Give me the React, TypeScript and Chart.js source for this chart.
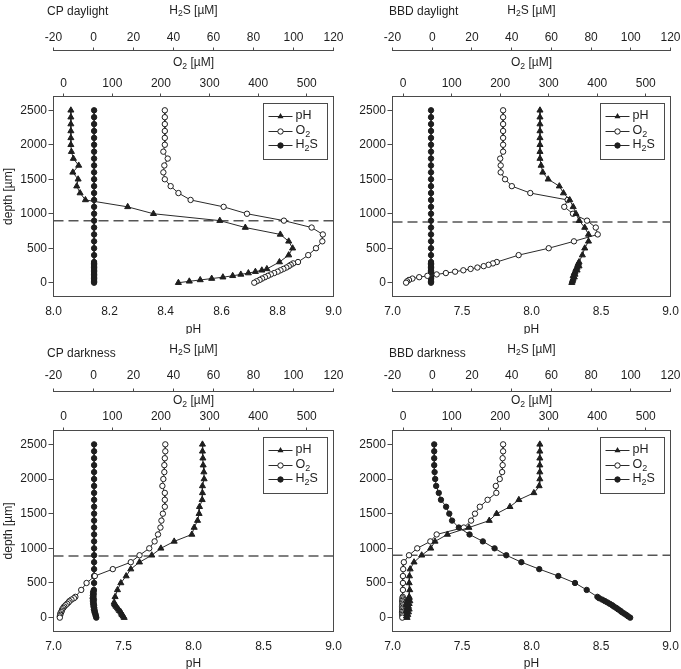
import React, { useEffect, useRef } from "react";
import { Chart, registerables } from "chart.js";

Chart.register(...registerables);

const FONT = "'Liberation Sans', Arial, Helvetica, sans-serif";
const INK = "#1e1e1e";
const FRAME = "#4a4a4a";
const LINE = "#2a2a2a";

// ---------- depth grids (µm) ----------
const COARSE_DEPTHS = [2500, 2400, 2300, 2200, 2100, 2000, 1900, 1800, 1700, 1600, 1500, 1400, 1300, 1200, 1100, 1000, 900, 800, 700, 600, 500, 400, 300];
const COARSE_TO_400 = [2500, 2400, 2300, 2200, 2100, 2000, 1900, 1800, 1700, 1600, 1500, 1400, 1300, 1200, 1100, 1000, 900, 800, 700, 600, 500, 400];
const COARSE_TO_500 = [2500, 2400, 2300, 2200, 2100, 2000, 1900, 1800, 1700, 1600, 1500, 1400, 1300, 1200, 1100, 1000, 900, 800, 700, 600, 500];
const FINE_400 = [400, 380, 360, 340, 320, 300, 280, 260, 240, 220, 200, 180, 160, 140, 120, 100, 80, 60, 40, 20, 0];
const FINE_300 = [300, 280, 260, 240, 220, 200, 180, 160, 140, 120, 100, 80, 60, 40, 20, 0];
const FINE_280 = [280, 260, 240, 220, 200, 180, 160, 140, 120, 100, 80, 60, 40, 20, 0];
const FINE_220 = [220, 200, 180, 160, 140, 120, 100, 80, 60, 40, 20, 0];
const FINE_200 = [200, 180, 160, 140, 120, 100, 80, 60, 40, 20, 0];

// ---------- tick labels ----------
const DEPTH_TICKS = [0, 500, 1000, 1500, 2000, 2500];
const O2_TICKS = [0, 100, 200, 300, 400, 500];
const H2S_TICKS = [-20, 0, 20, 40, 60, 80, 100, 120];
const PH_TICKS_NARROW = [8.0, 8.2, 8.4, 8.6, 8.8, 9.0];
const PH_TICKS_WIDE = [7.0, 7.5, 8.0, 8.5, 9.0];

// ---------- CP daylight ----------
const CP_DAY_PH_DEPTH = [...COARSE_DEPTHS, ...FINE_200];
const CP_DAY_PH = [8.062, 8.062, 8.062, 8.062, 8.062, 8.062, 8.064, 8.071, 8.09, 8.069, 8.088, 8.083, 8.095, 8.114, 8.265, 8.357, 8.594, 8.685, 8.81, 8.84, 8.854, 8.84, 8.807,
  8.762, 8.744, 8.721, 8.696, 8.669, 8.64, 8.605, 8.565, 8.524, 8.485, 8.446];
const CP_DAY_O2_DEPTH = [...COARSE_TO_400, ...FINE_300];
const CP_DAY_O2 = [208, 208, 208, 208, 208, 208, 205, 214, 207, 205, 208, 220, 236, 261, 329, 377, 453, 510, 533, 532, 519, 503,
  482, 472, 467, 463, 458, 452, 446, 440, 433, 426, 420, 414, 408, 403, 397, 392];
const CP_DAY_H2S_DEPTH = [...COARSE_TO_400, ...FINE_300];
const CP_DAY_H2S = [0.3, 0.3, 0.3, 0.3, 0.3, 0.3, 0.3, 0.3, 0.3, 0.3, 0.3, 0.3, 0.3, 0.3, 0.3, 0.3, 0.3, 0.3, 0.3, 0.3, 0.3, 0.3,
  0.3, 0.3, 0.3, 0.3, 0.3, 0.3, 0.3, 0.3, 0.3, 0.3, 0.3, 0.3, 0.3, 0.3, 0.3, 0.3];

// ---------- BBD daylight ----------
const BBD_DAY_PH_DEPTH = [...COARSE_DEPTHS, ...FINE_280];
const BBD_DAY_PH = [8.061, 8.061, 8.061, 8.061, 8.061, 8.061, 8.061, 8.061, 8.069, 8.081, 8.12, 8.2, 8.23, 8.275, 8.3, 8.32, 8.343, 8.383, 8.41, 8.41, 8.383, 8.366, 8.342,
  8.338, 8.333, 8.342, 8.328, 8.32, 8.328, 8.313, 8.308, 8.313, 8.3, 8.308, 8.299, 8.296, 8.294, 8.29];
const BBD_DAY_O2_DEPTH = [...COARSE_TO_400, ...FINE_300];
const BBD_DAY_O2 = [206, 206, 206, 206, 206, 206, 206, 200, 201, 201, 210, 224, 262, 339, 332, 350, 379, 397, 401, 352, 300, 238,
  193, 185, 176, 166, 153, 139, 124, 107, 88, 69, 50, 33, 19, 12, 8, 6];
const BBD_DAY_H2S_DEPTH = [...COARSE_TO_400, ...FINE_300];
const BBD_DAY_H2S = [-0.6, -0.6, -0.6, -0.6, -0.6, -0.6, -0.6, -0.6, -0.6, -0.6, -0.6, -0.6, -0.6, -0.6, -0.6, -0.6, -0.6, -0.6, -0.6, -0.6, -0.6, -0.6,
  -0.6, -0.6, -0.6, -0.6, -0.6, -0.6, -0.6, -0.6, -0.6, -0.6, -0.6, -0.6, -0.6, -0.6, -0.6, -0.6];

// ---------- CP darkness ----------
const CP_DARK_PH_DEPTH = [...COARSE_DEPTHS, ...FINE_220];
const CP_DARK_PH = [8.064, 8.064, 8.067, 8.069, 8.074, 8.076, 8.064, 8.064, 8.062, 8.043, 8.04, 8.029, 8.005, 7.988, 7.862, 7.767, 7.702, 7.614, 7.552, 7.519, 7.481, 7.457, 7.44,
  7.433, 7.436, 7.44, 7.448, 7.457, 7.464, 7.471, 7.481, 7.486, 7.49, 7.498, 7.505];
const CP_DARK_O2_DEPTH = [...COARSE_TO_400, ...FINE_300];
const CP_DARK_O2 = [209, 209, 208, 207, 207, 205, 203, 208, 208, 208, 204, 201, 199, 194, 187, 176, 156, 138, 101, 64, 47, 36,
  24, 21, 16, 12, 10, 7, 4, 1, -1, -3, -4, -5, -7, -7, -8, -8];
const CP_DARK_H2S_DEPTH = [...COARSE_TO_500, ...FINE_400];
const CP_DARK_H2S = [0.3, 0.3, 0.3, 0.3, 0.3, 0.3, 0.3, 0.3, 0.3, 0.3, 0.3, 0.3, 0.3, 0.3, 0.3, 0.3, 0.3, 0.3, 0.3, 0.3, 0.3,
  0.2, 0.0, -0.2, 0.1, -0.3, 0.0, -0.4, 0.2, -0.3, 0.1, -0.2, 0.3, 0.0, 0.4, 0.2, 0.6, 0.5, 0.9, 1.0, 1.2, 1.4];

// ---------- BBD darkness ----------
const BBD_DARK_PH_DEPTH = [...COARSE_DEPTHS, ...FINE_280];
const BBD_DARK_PH = [8.06, 8.06, 8.06, 8.06, 8.06, 8.06, 8.055, 8.017, 7.909, 7.845, 7.749, 7.696, 7.55, 7.395, 7.306, 7.275, 7.21, 7.155, 7.127, 7.122, 7.12, 7.124, 7.12,
  7.12, 7.11, 7.125, 7.105, 7.12, 7.1, 7.115, 7.105, 7.12, 7.1, 7.115, 7.105, 7.11, 7.1, 7.105];
const BBD_DARK_O2_DEPTH = [...COARSE_DEPTHS, ...FINE_280];
const BBD_DARK_O2 = [206, 206, 205, 205, 204, 199, 191, 192, 174, 158, 148, 140, 125, 69, 56, 29, 12, 1.4, 0, -0.5, -0.5, -0.5, -0.8,
  -1.5, -1.0, -2.0, -1.2, -1.8, -1.0, -2.2, -1.5, -2.0, -1.3, -2.4, -1.6, -2.0, -1.5, -1.8];
const BBD_DARK_H2S_DEPTH = [...COARSE_DEPTHS, ...FINE_280];
const BBD_DARK_H2S = [1.0, 1.0, 1.0, 1.0, 1.2, 1.5, 2.0, 3.3, 4.4, 7.0, 8.6, 10.0, 13.4, 18.8, 25.5, 31.4, 37.3, 44.9, 53.9, 63.5, 71.9, 77.8, 83.2,
  84.1, 85.6, 86.9, 88.2, 89.4, 90.6, 91.5, 92.7, 93.6, 94.7, 95.5, 96.6, 97.7, 98.6, 99.7];

// ---------- oxic/anoxic boundary (dashed line), µm ----------
const BOUNDARY_DEPTHS = [900, 880, 890, 900];
const PANEL_TITLES = ["CP daylight", "BBD daylight", "CP darkness", "BBD darkness"];

type Series = { depth: number[]; values: number[] };
type Panel = {
  title: string;
  left: number; top: number; w: number; h: number;
  yWidth: number; padRight: number; showYTitle: boolean;
  h2sH: number; o2H: number; xH: number;
  h2sTickPad: number; o2TickPad: number; xTickPad: number; xTitlePadBottom: number;
  titleX: number; titleY: number; h2sTitleY: number; o2TitleY: number;
  phMin: number; phMax: number; phTicks: number[];
  o2Min: number; o2Max: number;
  ph: Series; o2: Series; h2s: Series; boundary: number;
};

const zip = (s: Series) => s.depth.map((y, i) => ({ x: s.values[i], y }));

const TOP_ROW = { top: 0, h: 334, h2sH: 50.5, o2H: 46, xH: 37.5, h2sTickPad: 2.8, o2TickPad: 2.3, xTickPad: 8, xTitlePadBottom: -2.5, titleY: 12, h2sTitleY: 10.5, o2TitleY: 63 };
const BOTTOM_ROW = { top: 334, h: 335, h2sH: 57.5, o2H: 39, xH: 37.5, h2sTickPad: 5.3, o2TickPad: 3.3, xTickPad: 8.3, xTitlePadBottom: -2.2, titleY: 20, h2sTitleY: 15.5, o2TitleY: 67 };
// left canvases are wider than their column so the last tick labels are not clipped
const LEFT_COL = { left: 0, w: 362, yWidth: 53.5, padRight: 28.5, showYTitle: true, titleX: 47, o2Min: -21, o2Max: 555 };
const RIGHT_COL = { left: 340, w: 341, yWidth: 52.5, padRight: 10.5, showYTitle: false, titleX: 49, o2Min: -22, o2Max: 551 };

const PANELS: Panel[] = [
  { ...TOP_ROW, ...LEFT_COL, title: PANEL_TITLES[0], phMin: 8, phMax: 9, phTicks: PH_TICKS_NARROW,
    ph: { depth: CP_DAY_PH_DEPTH, values: CP_DAY_PH }, o2: { depth: CP_DAY_O2_DEPTH, values: CP_DAY_O2 }, h2s: { depth: CP_DAY_H2S_DEPTH, values: CP_DAY_H2S }, boundary: BOUNDARY_DEPTHS[0] },
  { ...TOP_ROW, ...RIGHT_COL, title: PANEL_TITLES[1], phMin: 7, phMax: 9, phTicks: PH_TICKS_WIDE,
    ph: { depth: BBD_DAY_PH_DEPTH, values: BBD_DAY_PH }, o2: { depth: BBD_DAY_O2_DEPTH, values: BBD_DAY_O2 }, h2s: { depth: BBD_DAY_H2S_DEPTH, values: BBD_DAY_H2S }, boundary: BOUNDARY_DEPTHS[1] },
  { ...BOTTOM_ROW, ...LEFT_COL, title: PANEL_TITLES[2], phMin: 7, phMax: 9, phTicks: PH_TICKS_WIDE,
    ph: { depth: CP_DARK_PH_DEPTH, values: CP_DARK_PH }, o2: { depth: CP_DARK_O2_DEPTH, values: CP_DARK_O2 }, h2s: { depth: CP_DARK_H2S_DEPTH, values: CP_DARK_H2S }, boundary: BOUNDARY_DEPTHS[2] },
  { ...BOTTOM_ROW, ...RIGHT_COL, title: PANEL_TITLES[3], phMin: 7, phMax: 9, phTicks: PH_TICKS_WIDE,
    ph: { depth: BBD_DARK_PH_DEPTH, values: BBD_DARK_PH }, o2: { depth: BBD_DARK_O2_DEPTH, values: BBD_DARK_O2 }, h2s: { depth: BBD_DARK_H2S_DEPTH, values: BBD_DARK_H2S }, boundary: BOUNDARY_DEPTHS[3] },
];

type Part = [string, boolean];

function drawRich(ctx: CanvasRenderingContext2D, parts: Part[], x: number, y: number, size: number, align: "left" | "center") {
  const subSize = size * 0.72;
  let total = 0;
  for (const [t, sub] of parts) {
    ctx.font = `${sub ? subSize : size}px ${FONT}`;
    total += ctx.measureText(t).width;
  }
  let cx = align === "center" ? x - total / 2 : x;
  ctx.textAlign = "left";
  ctx.textBaseline = "middle";
  for (const [t, sub] of parts) {
    ctx.font = `${sub ? subSize : size}px ${FONT}`;
    ctx.fillText(t, cx, sub ? y + size * 0.3 : y);
    cx += ctx.measureText(t).width;
  }
}

function drawMarker(ctx: CanvasRenderingContext2D, kind: string, x: number, y: number) {
  ctx.beginPath();
  if (kind === "tri") {
    const r = 3.5;
    for (let k = 0; k < 3; k++) {
      const a = (k * 2 * Math.PI) / 3;
      const px = x + Math.sin(a) * r;
      const py = y - Math.cos(a) * r;
      if (k === 0) ctx.moveTo(px, py); else ctx.lineTo(px, py);
    }
    ctx.closePath();
    ctx.fillStyle = INK;
    ctx.fill();
  } else {
    ctx.arc(x, y, 2.7, 0, Math.PI * 2);
    ctx.fillStyle = kind === "open" ? "#fff" : INK;
    ctx.fill();
    ctx.strokeStyle = INK;
    ctx.lineWidth = 1;
    ctx.stroke();
  }
}

const decorPlugin = (p: Panel) => ({
  id: "decor",
  afterDraw(chart: any) {
    const ctx: CanvasRenderingContext2D = chart.ctx;
    const a = chart.chartArea;
    ctx.save();
    // frame
    ctx.strokeStyle = FRAME;
    ctx.lineWidth = 1;
    ctx.strokeRect(a.left, a.top, a.right - a.left, a.bottom - a.top);
    // panel title
    ctx.fillStyle = INK;
    ctx.textAlign = "left";
    ctx.textBaseline = "middle";
    ctx.font = `12px ${FONT}`;
    ctx.fillText(p.title, p.titleX, p.titleY);
    // top axis titles
    const cx = (a.left + a.right) / 2;
    drawRich(ctx, [["H", false], ["2", true], ["S [µM]", false]], cx, p.h2sTitleY, 12, "center");
    drawRich(ctx, [["O", false], ["2", true], [" [µM]", false]], cx, p.o2TitleY, 12, "center");
    // legend
    const w = 64, h = 56;
    const x0 = Math.round(a.right - 7 - w) + 0.5;
    const y0 = Math.round(a.top + 6) + 0.5;
    ctx.fillStyle = "#fff";
    ctx.fillRect(x0, y0, w, h);
    ctx.strokeStyle = FRAME;
    ctx.lineWidth = 1;
    ctx.strokeRect(x0, y0, w, h);
    const rows: { kind: string; label: Part[] }[] = [
      { kind: "tri", label: [["pH", false]] },
      { kind: "open", label: [["O", false], ["2", true]] },
      { kind: "fill", label: [["H", false], ["2", true], ["S", false]] },
    ];
    rows.forEach((r, i) => {
      const ry = y0 + 12.5 + i * 14.5;
      ctx.strokeStyle = LINE;
      ctx.lineWidth = 1;
      ctx.beginPath();
      ctx.moveTo(x0 + 5, Math.round(ry) + 0.5);
      ctx.lineTo(x0 + 29, Math.round(ry) + 0.5);
      ctx.stroke();
      drawMarker(ctx, r.kind, x0 + 17, Math.round(ry) + 0.5);
      ctx.fillStyle = INK;
      drawRich(ctx, r.label, x0 + 32, ry, 12.5, "left");
    });
    ctx.restore();
  },
});

function buildConfig(p: Panel): any {
  const tickFont = { family: FONT, size: 12 };
  const fixTicks = (vals: number[]) => (scale: any) => {
    scale.ticks = vals.map((v) => ({ value: v }));
  };
  return {
    type: "scatter",
    data: {
      datasets: [
        {
          label: "pH", data: zip(p.ph), xAxisID: "x", yAxisID: "y", showLine: true,
          borderColor: LINE, borderWidth: 1, pointStyle: "triangle", pointRadius: 3.5,
          pointBackgroundColor: INK, pointBorderColor: INK, pointBorderWidth: 1,
        },
        {
          label: "O2", data: zip(p.o2), xAxisID: "xO2", yAxisID: "y", showLine: true,
          borderColor: LINE, borderWidth: 1, pointStyle: "circle", pointRadius: 2.7,
          pointBackgroundColor: "#fff", pointBorderColor: INK, pointBorderWidth: 1,
        },
        {
          label: "H2S", data: zip(p.h2s), xAxisID: "xH2S", yAxisID: "y", showLine: true,
          borderColor: LINE, borderWidth: 1, pointStyle: "circle", pointRadius: 2.7,
          pointBackgroundColor: INK, pointBorderColor: INK, pointBorderWidth: 1,
        },
        {
          label: "boundary", data: [{ x: p.phMin, y: p.boundary }, { x: p.phMax, y: p.boundary }],
          xAxisID: "x", yAxisID: "y", showLine: true, borderColor: "#555", borderWidth: 1.5,
          borderDash: [10, 5], pointRadius: 0,
        },
      ],
    },
    options: {
      responsive: false,
      animation: false,
      events: [],
      elements: { line: { tension: 0 } },
      layout: { padding: { left: 0, top: 0, bottom: 0, right: p.padRight } },
      plugins: { legend: { display: false }, tooltip: { enabled: false }, title: { display: false } },
      scales: {
        x: {
          type: "linear", position: "bottom", min: p.phMin, max: p.phMax,
          afterBuildTicks: fixTicks(p.phTicks),
          afterFit: (s: any) => { s.height = p.xH; s.paddingLeft = 0; s.paddingRight = 0; },
          ticks: { font: tickFont, color: INK, padding: p.xTickPad, autoSkip: false, maxRotation: 0, callback: (v: any) => Number(v).toFixed(1) },
          grid: { display: false, drawTicks: false },
          border: { display: false },
          title: { display: true, text: "pH", font: tickFont, color: INK, padding: { top: 0, bottom: p.xTitlePadBottom } },
        },
        xO2: {
          type: "linear", position: "top", weight: 1, min: p.o2Min, max: p.o2Max,
          afterBuildTicks: fixTicks(O2_TICKS),
          afterFit: (s: any) => { s.height = p.o2H; s.paddingLeft = 0; s.paddingRight = 0; },
          ticks: { font: tickFont, color: INK, padding: p.o2TickPad, autoSkip: false, maxRotation: 0, callback: (v: any) => String(v) },
          grid: { display: true, drawOnChartArea: false, drawTicks: true, tickLength: 3, color: FRAME },
          border: { display: false },
        },
        xH2S: {
          type: "linear", position: "top", weight: 2, min: -20, max: 120,
          afterBuildTicks: fixTicks(H2S_TICKS),
          afterFit: (s: any) => { s.height = p.h2sH; s.paddingLeft = 0; s.paddingRight = 0; },
          ticks: { font: tickFont, color: INK, padding: p.h2sTickPad, autoSkip: false, maxRotation: 0, callback: (v: any) => String(v) },
          grid: { display: true, drawOnChartArea: false, drawTicks: true, tickLength: 3, color: FRAME },
          border: { display: true, color: FRAME, width: 1 },
        },
        y: {
          type: "linear", position: "left", min: -200, max: 2700,
          afterBuildTicks: fixTicks(DEPTH_TICKS),
          afterFit: (s: any) => { s.width = p.yWidth; s.paddingTop = 0; s.paddingBottom = 0; },
          ticks: { font: tickFont, color: INK, padding: 1.5, autoSkip: false, callback: (v: any) => String(v) },
          grid: { display: true, drawOnChartArea: false, drawTicks: true, tickLength: 5, color: FRAME },
          border: { display: false },
          title: { display: p.showYTitle, text: "depth [µm]", font: tickFont, color: INK, padding: { top: 1, bottom: 0 } },
        },
      },
    },
    plugins: [decorPlugin(p)],
  };
}

function PanelChart({ p }: { p: Panel }) {
  const ref = useRef<HTMLCanvasElement>(null);
  useEffect(() => {
    if (!ref.current) return;
    const chart = new Chart(ref.current, buildConfig(p));
    return () => chart.destroy();
  }, [p]);
  return (
    <canvas
      ref={ref}
      width={p.w}
      height={p.h}
      style={{ position: "absolute", left: p.left, top: p.top, width: p.w, height: p.h }}
    />
  );
}

export default function App() {
  return (
    <div style={{ position: "absolute", left: 0, top: 0, width: 681, height: 669, background: "#fff", overflow: "hidden" }}>
      {PANELS.map((p, i) => (
        <PanelChart key={i} p={p} />
      ))}
    </div>
  );
}
